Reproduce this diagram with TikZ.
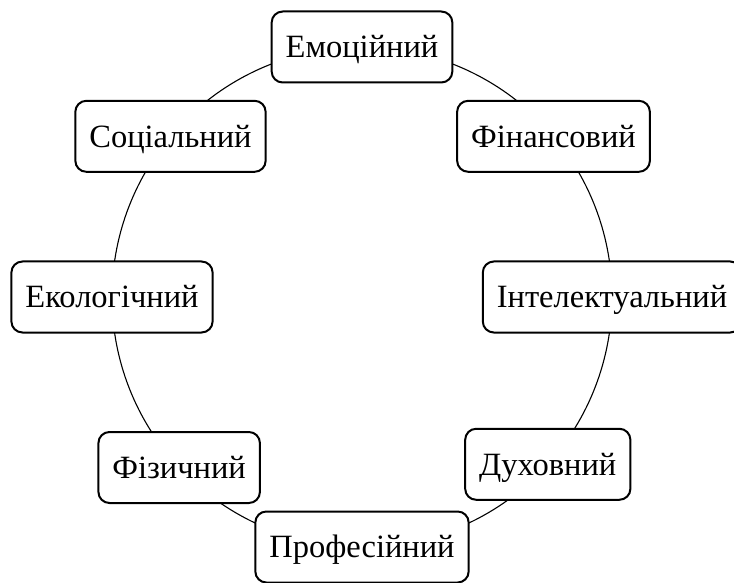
\documentclass[tikz,border=0pt]{standalone}
\usepackage{fontspec}
\setmainfont{Liberation Serif}
\usetikzlibrary{backgrounds}
\begin{document}
\begin{tikzpicture}[x=1pt,y=1pt,
  aspect/.style={draw, line width=2pt, rounded corners=11pt, fill=white,
    inner xsep=14pt, inner ysep=0pt, minimum height=71pt,
    text height=21.5pt, text depth=0pt,
    font=\fontsize{32.5}{40}\selectfont},
  ring/.style={line width=1.1pt}]
\useasboundingbox (0,0) rectangle (734,582);
\coordinate (c) at (362,285);
\node[aspect] (emo)  at ([shift={(90:250)}]c)  {Емоційний};
\node[aspect] (soc)  at ([shift={(140:250)}]c) {Соціальний};
\node[aspect] (eko)  at ([shift={(180:250)}]c) {Екологічний};
\node[aspect] (fiz)  at ([shift={(223:250)}]c) {Фізичний};
\node[aspect] (prof) at ([shift={(270:250)}]c) {Професійний};
\node[aspect] (duk)  at ([shift={(318:250)}]c) {Духовний};
\node[aspect] (int)  at ([shift={(360:250)}]c) {Інтелектуальний};
\node[aspect] (fin)  at ([shift={(400:250)}]c) {Фінансовий};
\begin{pgfonlayer}{background}
\draw[ring] (emo.center)  arc[start angle=90,  end angle=140, radius=250];
\draw[ring] (soc.center)  arc[start angle=140, end angle=180, radius=250];
\draw[ring] (eko.center)  arc[start angle=180, end angle=223, radius=250];
\draw[ring] (fiz.center)  arc[start angle=223, end angle=270, radius=250];
\draw[ring] (prof.center) arc[start angle=270, end angle=318, radius=250];
\draw[ring] (duk.center)  arc[start angle=318, end angle=360, radius=250];
\draw[ring] (int.center)  arc[start angle=360, end angle=400, radius=250];
\draw[ring] (fin.center)  arc[start angle=400, end angle=450, radius=250];
\end{pgfonlayer}
\end{tikzpicture}
\end{document}
